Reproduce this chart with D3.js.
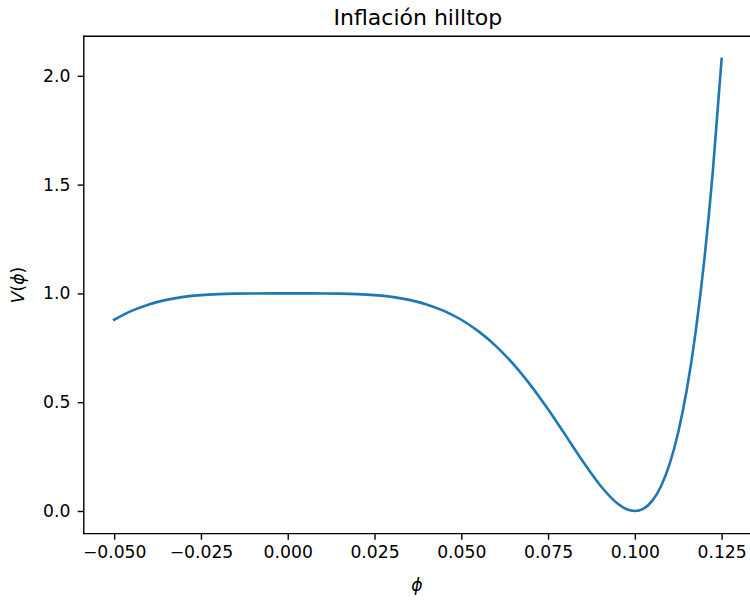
<!DOCTYPE html>
<html><head><meta charset="utf-8">
<script src="https://cdn.jsdelivr.net/npm/d3@7"></script>
<style>body{margin:0;background:#fff}svg{display:block}text{font-family:"DejaVu Sans",sans-serif;fill:#000}</style>
</head><body><svg id="c" width="750" height="601"></svg>
<script>
const phi = [-0.05,-0.045,-0.04,-0.035,-0.03,-0.025,-0.02,-0.015,-0.01,-0.005,0,0.005,0.01,0.015,0.02,0.025,0.03,0.035,0.04,0.045,0.05,0.055,0.06,0.065,0.07,0.075,0.08,0.085,0.09,0.095,0.0975,0.1,0.1025,0.105,0.1075,0.11,0.1125,0.115,0.1175,0.12,0.1225,0.125];
const V = [0.8789,0.9197,0.9495,0.9702,0.9839,0.9922,0.9968,0.9990,0.9998,1.0000,1.0000,1.0000,0.9998,0.9990,0.9968,0.9922,0.9839,0.9702,0.9495,0.9197,0.8789,0.8254,0.7576,0.6749,0.5774,0.4673,0.3486,0.2285,0.1183,0.0344,0.0093,0.0,0.0108,0.0464,0.1125,0.2154,0.3622,0.5610,0.8211,1.1526,1.5672,2.0777];
const xTicks = [-0.05,-0.025,0,0.025,0.05,0.075,0.1,0.125];
const yTicks = [0,0.5,1.0,1.5,2.0];
const title = "Inflación hilltop";

const svg = d3.select("#c");
const L = 83.8, R = 752, T = 36.3, B = 533.6;
const xmin = d3.min(phi), xmax = d3.max(phi), ymin = d3.min(V), ymax = d3.max(V);
const mx = (xmax - xmin) * 0.05, my = (ymax - ymin) * 0.05;
const x = d3.scaleLinear().domain([xmin - mx, xmax + mx]).range([L, R]);
const y = d3.scaleLinear().domain([ymin - my, ymax + my]).range([B, T]);

const line = d3.line().x((d,i)=>x(phi[i])).y(d=>y(d)).curve(d3.curveMonotoneX);
svg.append("path").attr("d", line(V)).attr("fill","none").attr("stroke","#1f77b4").attr("stroke-width",2.6).attr("stroke-linecap","square");

const fs = 17.2;
const xa = svg.append("g").attr("transform",`translate(0,${B})`)
  .call(d3.axisBottom(x).tickValues(xTicks).tickFormat(d=>d3.format(".3f")(d).replace("-","\u2212")).tickSize(6.1).tickPadding(6.1));
const ya = svg.append("g").attr("transform",`translate(${L},0)`)
  .call(d3.axisLeft(y).tickValues(yTicks).tickFormat(d3.format(".1f")).tickSize(6.1).tickPadding(7.3));
[xa,ya].forEach(a=>{
  a.select(".domain").remove();
  a.selectAll(".tick line").attr("stroke","#000").attr("stroke-width",1.4);
  a.selectAll(".tick text").attr("font-size",fs).attr("font-family","DejaVu Sans").attr("fill","#000");
});
const sp = svg.append("g").attr("fill","none").attr("stroke","#000").attr("stroke-width",1.4).attr("stroke-linecap","square");
sp.append("line").attr("x1",L).attr("x2",L).attr("y1",T).attr("y2",B);
sp.append("line").attr("x1",L).attr("x2",R).attr("y1",B).attr("y2",B);
sp.append("line").attr("x1",L).attr("x2",R).attr("y1",T).attr("y2",T);
sp.append("line").attr("x1",R).attr("x2",R).attr("y1",T).attr("y2",B);

svg.append("text").attr("x",(L+R)/2).attr("y",24.5).attr("text-anchor","middle").attr("font-size",22).text(title);
svg.append("text").attr("x",417).attr("y",591).attr("text-anchor","middle").attr("font-size",fs).attr("font-style","italic").text("\u03d5");
const yl = svg.append("text").attr("transform",`translate(23.5,${(T+B)/2}) rotate(-90)`).attr("text-anchor","middle").attr("font-size",fs);
yl.append("tspan").attr("font-style","italic").text("V");
yl.append("tspan").text("(");
yl.append("tspan").attr("font-style","italic").text("\u03d5");
yl.append("tspan").text(")");
</script></body></html>
